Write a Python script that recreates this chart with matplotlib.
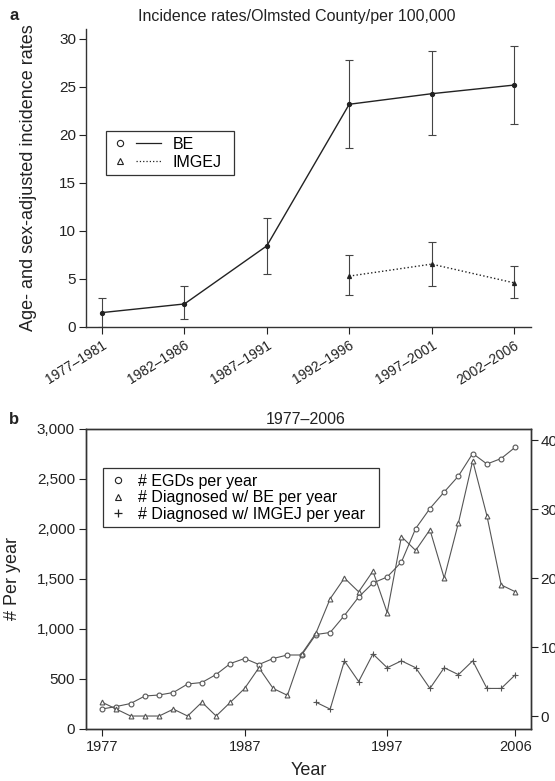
import matplotlib
matplotlib.use('Agg')
import matplotlib.pyplot as plt
from matplotlib.lines import Line2D
from matplotlib.legend_handler import HandlerBase
import numpy as np

plt.rcParams['font.family'] = ['Liberation Sans', 'DejaVu Sans']

# panel a: incidence rates per 5-year period
periods = ['1977–1981', '1982–1986', '1987–1991', '1992–1996', '1997–2001', '2002–2006']
be_rate = [1.5, 2.4, 8.45, 23.2, 24.3, 25.2]
be_low = [0.0, 0.8, 5.5, 18.6, 20.0, 21.15]
be_high = [3.0, 4.25, 11.35, 27.8, 28.7, 29.3]
imgej_periods = periods[3:]
imgej_rate = [5.3, 6.55, 4.6]
imgej_low = [3.3, 4.3, 3.0]
imgej_high = [7.45, 8.85, 6.35]

# panel b: counts per year
years = list(range(1977, 2007))
egds = [200, 225, 255, 330, 340, 365, 450, 465, 545, 655,
        705, 645, 705, 740, 740, 945, 965, 1135, 1320, 1460,
        1520, 1670, 2005, 2205, 2370, 2530, 2755, 2650, 2705, 2820]
be_counts = [2, 1, 0, 0, 0, 1, 0, 2, 0, 2,
             4, 7, 4, 3, 9, 12, 17, 20, 18, 21,
             15, 26, 24, 27, 20, 28, 37, 29, 19, 18]
imgej_years = list(range(1992, 2007))
imgej_counts = [2, 1, 8, 5, 9, 7, 8, 7, 4, 7, 6, 8, 4, 4, 6]

W, H = 555, 781
ink = '#222222'
grey = '#555555'


def fx(px):
    return px / W


def fy(py):
    return 1 - py / H


class MarkLine(HandlerBase):
    # marker on the left, line sample on the right (R style legend)
    def create_artists(self, legend, orig_handle, xdescent, ydescent,
                       width, height, fontsize, trans):
        y = height / 2 - ydescent
        m = Line2D([-xdescent + 0.16 * width], [y], marker=orig_handle.get_marker(),
                   ls='none', mfc='none', mec=ink, ms=4.5, mew=0.8, transform=trans)
        l = Line2D([-xdescent + 0.5 * width, -xdescent + width], [y, y],
                   ls=orig_handle.get_linestyle(), color=ink, lw=0.9, transform=trans)
        return [m, l]


fig = plt.figure(figsize=(W / 100, H / 100), dpi=100)

# ---- panel a ----
ax1 = fig.add_axes([fx(86), fy(327), (531 - 86) / W, (327 - 29) / H])
x = np.arange(len(periods))
ax1.errorbar(x, be_rate, yerr=[np.subtract(be_rate, be_low), np.subtract(be_high, be_rate)],
             color=ink, lw=1.0, marker='o', ms=2.8, capsize=3, elinewidth=0.8,
             capthick=0.8, ecolor='#444444')
xi = x[3:]
ax1.errorbar(xi, imgej_rate, yerr=[np.subtract(imgej_rate, imgej_low), np.subtract(imgej_high, imgej_rate)],
             color=ink, lw=1.0, ls=':', marker='^', ms=2.8, capsize=3, elinewidth=0.8,
             capthick=0.8, ecolor='#444444')
ax1.set_xlim(-0.194, 5.206)
ax1.set_ylim(0, 31.04)
ax1.set_xticks(x)
ax1.set_xticklabels(periods, rotation=32, ha='right', rotation_mode='anchor')
ax1.set_yticks(range(0, 31, 5))
for s in ['top', 'right']:
    ax1.spines[s].set_visible(False)
for s in ['left', 'bottom']:
    ax1.spines[s].set_color('#333333')
    ax1.spines[s].set_linewidth(1.0)
ax1.tick_params(direction='out', length=5, width=0.8, pad=2, labelsize=11, colors=ink)
ax1.tick_params(axis='x', labelsize=10, pad=3)
ax1.set_ylabel('Age- and sex-adjusted incidence rates', fontsize=13, color=ink)
ax1.yaxis.set_label_coords((37 - 86) / 445, 0.5)

h_be = Line2D([], [], marker='o', ls='-')
h_im = Line2D([], [], marker='^', ls=':')
leg1 = ax1.legend([h_be, h_im], ['BE', 'IMGEJ'], handler_map={h_be: MarkLine(), h_im: MarkLine()},
                  loc='upper left', bbox_to_anchor=(fx(106), fy(174), (234 - 106) / W, (174 - 131) / H),
                  bbox_transform=fig.transFigure, mode='expand', borderaxespad=0,
                  fontsize=11.5, handlelength=3.1, handletextpad=0.7, borderpad=0.35,
                  labelspacing=0.2, fancybox=False, framealpha=1)
leg1.get_frame().set_edgecolor('#333333')
leg1.get_frame().set_linewidth(0.9)

fig.text(fx(297), fy(17), 'Incidence rates/Olmsted County/per 100,000', ha='center', va='center',
         fontsize=11.5, color=ink)
fig.text(fx(14), fy(16), 'a', ha='center', va='center', fontsize=12, fontweight='bold', color=ink)

# ---- panel b ----
ax2 = fig.add_axes([fx(86), fy(729), (531 - 86) / W, (729 - 429) / H])
ax2.plot(years, egds, color=grey, lw=0.8, marker='o', ms=3.5, mfc='white', mec=grey, mew=0.8)
ax2r = ax2.twinx()
ax2r.plot(years, be_counts, color=grey, lw=0.8, marker='^', ms=3.5, mfc='white', mec=grey, mew=0.8)
ax2r.plot(imgej_years, imgej_counts, color=grey, lw=0.8, marker='+', ms=4, mec=grey, mew=0.8)

ax2.set_xlim(1975.87, 2007.09)
ax2.set_ylim(0, 3000)
ax2r.set_ylim(-1.88, 41.6)
ax2.set_xticks([1977, 1987, 1997, 2006])
ax2.set_yticks(range(0, 3001, 500))
ax2.set_yticklabels([f'{v:,}' for v in range(0, 3001, 500)])
ax2r.set_yticks([0, 10, 20, 30, 40])
for a in (ax2, ax2r):
    for s in a.spines.values():
        s.set_color('#333333')
        s.set_linewidth(1.0)
ax2.tick_params(direction='out', length=5, width=0.8, pad=3, labelsize=11, colors=ink)
ax2.tick_params(axis='x', labelsize=10.5)
ax2r.tick_params(direction='out', length=5, width=0.8, pad=2, labelsize=11, colors=ink)
ax2.set_xlabel('Year', fontsize=13, color=ink, labelpad=6)
ax2.set_ylabel('# Per year', fontsize=13, color=ink)
ax2.yaxis.set_label_coords((21 - 86) / 445, 0.5)

leg_handles = [Line2D([], [], marker='o', ls='none', mfc='none', mec=ink, ms=4.5, mew=0.8),
               Line2D([], [], marker='^', ls='none', mfc='none', mec=ink, ms=4.5, mew=0.8),
               Line2D([], [], marker='+', ls='none', mec=ink, ms=6, mew=0.9)]
leg2 = ax2r.legend(leg_handles, ['# EGDs per year', '# Diagnosed w/ BE per year', '# Diagnosed w/ IMGEJ per year'],
                   loc='upper left', bbox_to_anchor=(fx(103.3), fy(533), (379.3 - 103.3) / W, (533 - 468) / H),
                   bbox_transform=fig.transFigure, mode='expand', borderaxespad=0,
                   fontsize=11.5, handlelength=1.2, handletextpad=0.6, borderpad=0.35,
                   labelspacing=0.1, fancybox=False, framealpha=1)
leg2.get_frame().set_edgecolor('#333333')
leg2.get_frame().set_linewidth(0.9)

fig.text(fx(306), fy(419), '1977–2006', ha='center', va='center', fontsize=11.5, color=ink)
fig.text(fx(14), fy(419), 'b', ha='center', va='center', fontsize=12, fontweight='bold', color=ink)

fig.savefig('out.png', dpi=100)
